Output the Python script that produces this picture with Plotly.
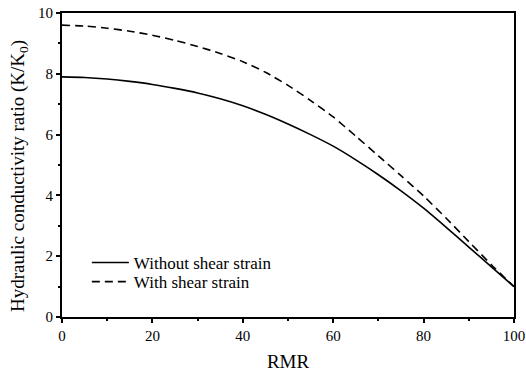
import plotly.graph_objects as go

# RMR values and hydraulic conductivity ratio K/K0
rmr = [0, 5, 10, 15, 20, 25, 30, 35, 40, 45, 50,
       55, 60, 65, 70, 75, 80, 85, 90, 95, 100]
k_without_shear = [7.9, 7.88, 7.83, 7.75, 7.65, 7.52, 7.37, 7.18, 6.95, 6.67, 6.35,
                   6.0, 5.62, 5.17, 4.68, 4.15, 3.58, 2.95, 2.3, 1.65, 1.0]
k_with_shear = [9.6, 9.57, 9.5, 9.4, 9.27, 9.1, 8.9, 8.67, 8.4, 8.05, 7.62,
                7.12, 6.58, 5.95, 5.3, 4.65, 3.98, 3.25, 2.48, 1.72, 1.0]

x_ticks = [0, 20, 40, 60, 80, 100]
y_ticks = [0, 2, 4, 6, 8, 10]

font_family = "Liberation Serif, Times New Roman, serif"

fig = go.Figure()
fig.add_trace(go.Scatter(
    x=rmr, y=k_without_shear, mode="lines", name="Without shear strain",
    line=dict(color="black", width=1.6, shape="spline", smoothing=0.6),
    legend="legend",
))
fig.add_trace(go.Scatter(
    x=rmr, y=k_with_shear, mode="lines", name="With shear strain",
    line=dict(color="black", width=1.6, dash="8px,5px", shape="spline", smoothing=0.6),
    legend="legend2",
))

axis_common = dict(
    showgrid=False, zeroline=False, showline=True, linecolor="black", linewidth=2,
    mirror=True, ticks="outside", ticklen=4, tickwidth=1.5, tickcolor="black",
    tickfont=dict(family=font_family, size=15, color="black"),
    automargin=False,
)

legend_common = dict(
    xanchor="left", yanchor="middle",
    bgcolor="rgba(0,0,0,0)", borderwidth=0,
    font=dict(family=font_family, size=17, color="black"),
    itemwidth=37,
)

fig.update_layout(
    width=526, height=372,
    margin=dict(l=62, r=12, t=13, b=55),
    paper_bgcolor="white", plot_bgcolor="white",
    font=dict(family=font_family, color="black"),
    showlegend=True,
    legend=dict(x=0.055, y=0.178, **legend_common),
    legend2=dict(x=0.055, y=0.115, **legend_common),
    xaxis=dict(
        range=[0, 100], tickvals=x_ticks,
        title=dict(text="RMR", font=dict(family=font_family, size=19), standoff=12),
        minor=dict(ticks="outside", ticklen=2, dtick=10, tickcolor="black"),
        **axis_common,
    ),
    yaxis=dict(
        range=[0, 10], tickvals=y_ticks,
        minor=dict(ticks="outside", ticklen=2, dtick=1, tickcolor="black"),
        **axis_common,
    ),
    annotations=[dict(
        text="Hydraulic conductivity ratio (K/K<sub>0</sub>)",
        xref="paper", yref="paper", x=-0.095, y=0.464,
        xanchor="center", yanchor="middle", textangle=-90, showarrow=False,
        font=dict(family=font_family, size=19, color="black"),
    )],
)

fig.write_html("out.html")
